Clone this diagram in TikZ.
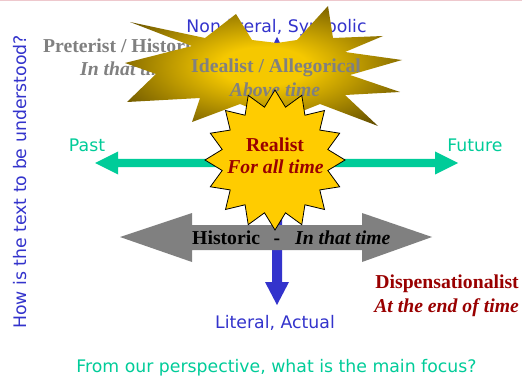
\documentclass[tikz,border=0pt]{standalone}
\usepackage{fontspec}
\setmainfont{Liberation Serif}
\newfontfamily\dvsans{DejaVu Sans}
\usetikzlibrary{shapes.geometric}
\definecolor{axisblue}{RGB}{51,51,204}
\definecolor{timegreen}{RGB}{0,204,153}
\definecolor{realred}{RGB}{153,0,0}
\definecolor{midgray}{RGB}{128,128,128}
\definecolor{sunyellow}{RGB}{255,204,0}
\definecolor{burstA}{RGB}{245,200,0}
\definecolor{burstB}{RGB}{95,75,0}
\definecolor{toppink}{RGB}{238,200,205}
\pgfdeclareradialshading{burstshade}{\pgfpoint{0bp}{0bp}}{color(0bp)=(burstA); color(8bp)=(burstA); color(32bp)=(burstB); color(50bp)=(burstB)}
\tikzset{
  sanslabel/.style={font=\dvsans\fontsize{17.3}{20}\selectfont, inner sep=0pt},
  seriflabel/.style={font=\fontsize{19.7}{22}\selectfont\bfseries, inner sep=0pt},
  serifital/.style={font=\fontsize{19.7}{22}\selectfont\bfseries\itshape, inner sep=0pt},
}
\begin{document}
\begin{tikzpicture}[x=1pt,y=-1pt]
\useasboundingbox (0,0) rectangle (522,377);
\fill[white] (0,0) rectangle (522,377);
\draw[toppink, line width=1.5pt] (0,0.75) -- (522,0.75);

% background labels partly hidden
\node[seriflabel, text=midgray, anchor=base west] (preterist) at (43,53) {Preterist / Historic};
\node[serifital, text=midgray, anchor=base west] (preteristtime) at (80,76) {In that time};
\node[sanslabel, text=axisblue, anchor=base] (nonliteral) at (276.5,33) {Non-literal, Symbolic};

% vertical blue double arrow
\fill[axisblue] (277,37) -- (289,60) -- (282,60) -- (282,282) -- (289,282) -- (277,305)
  -- (265,282) -- (272,282) -- (272,60) -- (265,60) -- cycle;
% green horizontal double arrow
\fill[timegreen] (95,163) -- (118,151.5) -- (118,159) -- (435,159) -- (435,151.5) -- (458,163)
  -- (435,174.5) -- (435,167) -- (118,167) -- (118,174.5) -- cycle;
% gray double arrow
\fill[midgray] (120,237) -- (192,213) -- (192,225) -- (362,225) -- (362,213) -- (432,237)
  -- (362,262) -- (362,250) -- (192,250) -- (192,262) -- cycle;

% idealist burst
\shade[shading=burstshade] (130,22) -- (205,38) -- (236,14) -- (252,40) -- (277,43) -- (297,40)
  -- (328,6) -- (333,38) -- (383,36) -- (345,52) -- (402,60) -- (350,75) -- (400,92)
  -- (345,95) -- (378,126) -- (320,104) -- (280,120) -- (240,104) -- (192,122) -- (200,98)
  -- (127,102) -- (156,74) -- (125,63) -- (192,46) -- cycle;
\node[seriflabel, text=midgray, anchor=base] (idealist) at (276,73) {Idealist / Allegorical};
\node[serifital, text=midgray, anchor=base] (abovetime) at (275,97) {Above time};

% realist star
\node[star, star points=16, star point ratio=1.3, minimum size=140pt, inner sep=0pt,
  draw=black, line width=0.8pt, fill=sunyellow] (realist) at (275,160) {};
\node[seriflabel, text=realred, anchor=base] (realistname) at (275,151) {Realist};
\node[serifital, text=realred, anchor=base] (realisttime) at (275.5,173) {For all time};

% historic label
\node[seriflabel, text=black, anchor=base west] (historic) at (192,244) {Historic};
\node[seriflabel, text=black, anchor=base] (dash) at (277,244) {-};
\node[serifital, text=black, anchor=base west] (historictime) at (295,244) {In that time};

% axis labels
\node[sanslabel, text=timegreen, anchor=base] (past) at (87,152) {Past};
\node[sanslabel, text=timegreen, anchor=base] (future) at (475,152) {Future};
\node[sanslabel, text=axisblue, anchor=base] (literal) at (275,328) {Literal, Actual};
\node[sanslabel, text=timegreen, anchor=base] (focus) at (276.5,372) {From our perspective, what is the main focus?};
\node[sanslabel, text=axisblue, anchor=base, rotate=90] (understood) at (27,182) {How is the text to be understood?};

% dispensationalist
\node[seriflabel, text=realred, anchor=base east] (dispens) at (519,288) {Dispensationalist};
\node[serifital, text=realred, anchor=base east] (dispenstime) at (519,312) {At the end of time};
\end{tikzpicture}
\end{document}
